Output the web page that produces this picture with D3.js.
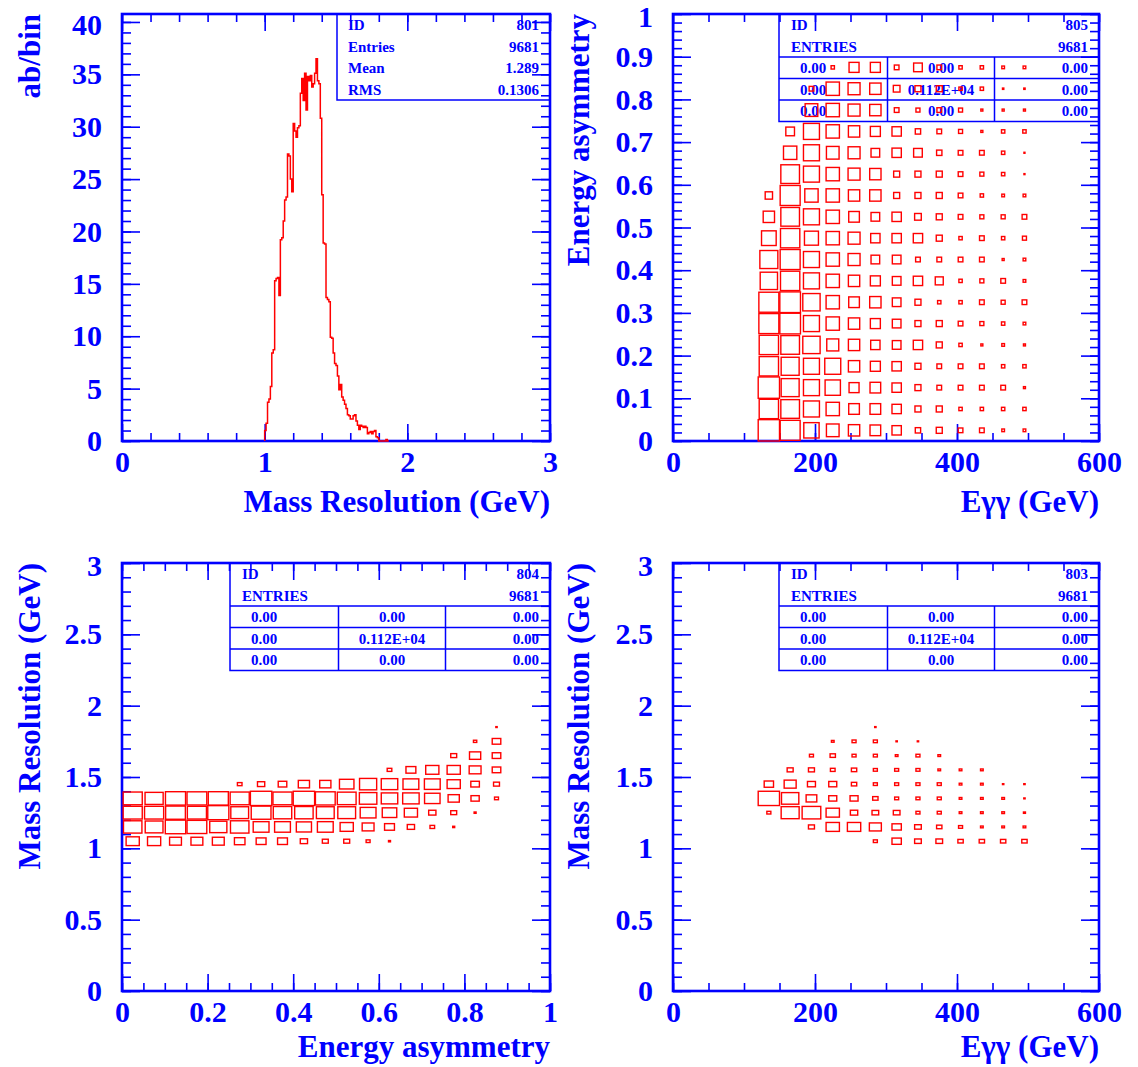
<!DOCTYPE html>
<html lang="en">
<head>
<meta charset="UTF-8" />
<title>PAW plots</title>
<style>
  body { margin: 0; background: #fff; }
  svg text { font-family: "Liberation Serif", "DejaVu Serif", serif; font-weight: bold; fill: #0000ff; }
  .ticklab text { font-size: 30px; }
  .title { font-size: 31px; }
  .stat { font-size: 15px; }
</style>
</head>
<body>
<div class="chart"></div>
<script src="https://d3js.org/d3.v7.min.js"></script>
<script>
// ---- data ------------------------------------------------------------
// 1D histogram 801 : mass resolution, bins of 0.01 GeV starting at 1.00
const massStart = 1.0
const massWidth = 0.01
const massCounts = [1.0, 1.7, 3.7, 4.0, 5.2, 8.4, 8.7, 15.3, 15.5, 15.6,
  13.9, 19.2, 19.4, 21.0, 23.0, 23.3, 27.4, 27.2, 25.0, 23.8,
  30.3, 29.6, 29.0, 29.9, 30.1, 33.2, 34.6, 32.5, 35.1, 31.6,
  34.8, 34.4, 34.9, 33.8, 34.1, 35.1, 36.5, 34.4, 34.1, 30.8,
  23.5, 18.9, 18.8, 13.7, 13.5, 13.3, 9.9, 9.8, 8.4, 7.4,
  7.2, 6.2, 4.9, 5.4, 4.2, 3.9, 3.5, 3.1, 2.5, 2.4,
  2.1, 2.1, 2.4, 2.5, 1.9, 1.5, 1.1, 1.5, 1.4, 1.3,
  1.4, 1.3, 0.7, 0.8, 0.9, 0.7, 0.9, 1.0, 0.4, 0.3,
  0, 0, 0, 0, 0, 0.15, 0]

// bin centres of the 2D histograms
const eggCenters = [135, 165, 195, 225, 255, 285, 315, 345, 375, 405, 435, 465, 495]
const asymCenters = [0.025, 0.075, 0.125, 0.175, 0.225, 0.275, 0.325, 0.375, 0.425,
  0.475, 0.525, 0.575, 0.625, 0.675, 0.725, 0.775, 0.825, 0.875]
const massCenters = [1.05, 1.15, 1.25, 1.35, 1.45, 1.55, 1.65, 1.75, 1.85]

// 805 : energy asymmetry (rows, bottom -> top) vs Egg (columns)
const asymVsEgg = [
  [64, 60, 46, 38, 34, 32, 28, 16, 18, 14, 14, 8, 8],
  [58, 56, 48, 40, 32, 32, 28, 18, 18, 10, 10, 10, 10],
  [64, 54, 48, 46, 30, 32, 28, 18, 14, 14, 14, 14, 6],
  [58, 54, 48, 48, 34, 30, 28, 18, 14, 14, 14, 10, 10],
  [58, 56, 52, 36, 34, 28, 26, 28, 18, 10, 6, 8, 6],
  [60, 62, 48, 40, 34, 30, 26, 18, 18, 14, 12, 10, 8],
  [60, 62, 52, 40, 32, 34, 26, 18, 10, 10, 14, 12, 14],
  [52, 58, 48, 40, 34, 30, 26, 28, 24, 10, 12, 14, 8],
  [54, 60, 48, 40, 36, 26, 26, 14, 14, 14, 14, 6, 8],
  [44, 58, 42, 40, 36, 28, 28, 28, 18, 10, 14, 10, 12],
  [34, 56, 48, 40, 32, 26, 28, 20, 18, 14, 12, 12, 14],
  [22, 60, 40, 40, 34, 34, 18, 18, 18, 14, 10, 8, 8],
  [0, 56, 48, 40, 36, 34, 18, 18, 18, 14, 12, 10, 3],
  [0, 40, 48, 38, 36, 26, 28, 26, 16, 14, 14, 10, 3],
  [0, 26, 48, 40, 34, 30, 28, 16, 14, 12, 6, 10, 10],
  [0, 0, 38, 40, 36, 34, 14, 12, 14, 12, 6, 6, 6],
  [0, 0, 14, 40, 36, 34, 20, 18, 18, 10, 10, 4, 4],
  [0, 0, 0, 10, 30, 30, 14, 26, 14, 10, 10, 8, 8]
]

// 804 : mass resolution (rows) vs energy asymmetry (columns)
const massVsAsym = [
  [40, 40, 36, 36, 36, 32, 30, 30, 22, 18, 18, 12, 6, 0, 0, 0, 0, 0],
  [56, 54, 62, 60, 52, 56, 48, 48, 46, 48, 40, 36, 30, 22, 14, 6, 0, 0],
  [58, 58, 60, 58, 64, 54, 60, 56, 56, 54, 54, 48, 44, 40, 22, 18, 6, 0],
  [58, 55, 61, 60, 61, 58, 65, 58, 65, 60, 57, 53, 50, 50, 47, 34, 25, 12],
  [0, 0, 0, 0, 0, 14, 22, 26, 34, 34, 44, 52, 50, 48, 48, 40, 26, 18],
  [0, 0, 0, 0, 0, 0, 0, 0, 0, 0, 0, 0, 14, 30, 40, 40, 36, 26],
  [0, 0, 0, 0, 0, 0, 0, 0, 0, 0, 0, 0, 0, 0, 0, 18, 34, 26],
  [0, 0, 0, 0, 0, 0, 0, 0, 0, 0, 0, 0, 0, 0, 0, 0, 10, 26],
  [0, 0, 0, 0, 0, 0, 0, 0, 0, 0, 0, 0, 0, 0, 0, 0, 0, 4]
]

// 803 : mass resolution (rows) vs Egg (columns)
const massVsEgg = [
  [0, 0, 0, 0, 0, 12, 28, 20, 20, 16, 16, 16, 16],
  [0, 0, 18, 40, 40, 36, 28, 20, 16, 12, 8, 8, 8],
  [12, 54, 56, 40, 22, 20, 20, 12, 12, 8, 8, 8, 6],
  [64, 52, 32, 24, 24, 16, 12, 12, 12, 8, 8, 8, 4],
  [28, 36, 24, 24, 16, 12, 12, 12, 12, 8, 8, 4, 4],
  [0, 18, 18, 14, 16, 12, 12, 12, 8, 8, 8, 0, 0],
  [0, 0, 12, 16, 12, 12, 8, 12, 8, 0, 0, 0, 0],
  [0, 0, 0, 8, 12, 12, 4, 4, 0, 0, 0, 0, 0],
  [0, 0, 0, 0, 0, 4, 0, 0, 0, 0, 0, 0, 0]
]

// tick labels
const massTicks = [0, 1, 2, 3]
const countTicks = [0, 5, 10, 15, 20, 25, 30, 35, 40]
const eggTicks = [0, 200, 400, 600]
const asymTicksY = [0, 0.1, 0.2, 0.3, 0.4, 0.5, 0.6, 0.7, 0.8, 0.9, 1]
const asymTicksX = [0, 0.2, 0.4, 0.6, 0.8, 1]
const massTicksY = [0, 0.5, 1, 1.5, 2, 2.5, 3]

// statistics boxes
const stats1D = [['ID', '801'], ['Entries', '9681'], ['Mean', '1.289'], ['RMS', '0.1306']]
const statsGrid = [['0.00', '0.00', '0.00'], ['0.00', '0.112E+04', '0.00'], ['0.00', '0.00', '0.00']]

// ---- drawing ---------------------------------------------------------
const blue = '#0000ff'
const red = '#ff0000'

const svg = d3.select('.chart').append('svg')
  .attr('width', 1138)
  .attr('height', 1067)

const steps = (a, b, s) => d3.range(Math.round((b - a) / s) + 1).map(i => +(a + i * s).toFixed(6))

function frame(p) {
  const g = svg.append('g').attr('transform', `translate(${p.left},${p.top})`)
  const x = d3.scaleLinear().domain(p.xDomain).range([0, p.w])
  const y = d3.scaleLinear().domain(p.yDomain).range([p.h, 0])
  const xMinor = steps(p.xDomain[0], p.xDomain[1], p.xMinor)
  const yMinor = steps(p.yDomain[0], Math.floor(p.yDomain[1] / p.yMinor) * p.yMinor, p.yMinor)
  const fmt = d => String(d)

  const add = (axis, tx, ty, labels) => {
    const a = g.append('g')
      .attr('transform', `translate(${tx},${ty})`)
      .attr('color', blue)
      .call(axis)
    a.select('.domain').remove()
    a.selectAll('line').attr('stroke-width', 1.6)
    if (labels) a.attr('class', 'ticklab')
    return a
  }
  // minor ticks all four sides
  add(d3.axisBottom(x).tickValues(xMinor).tickSize(-8).tickFormat(''), 0, p.h)
  add(d3.axisTop(x).tickValues(xMinor).tickSize(-8).tickFormat(''), 0, 0)
  add(d3.axisLeft(y).tickValues(yMinor).tickSize(-9).tickFormat(''), 0, 0)
  add(d3.axisRight(y).tickValues(yMinor).tickSize(-9).tickFormat(''), p.w, 0)
  // major ticks + labels
  add(d3.axisBottom(x).tickValues(p.xTicks).tickSize(-17).tickPadding(10).tickFormat(fmt), 0, p.h, true)
  add(d3.axisTop(x).tickValues(p.xTicks).tickSize(-17).tickFormat(''), 0, 0)
  const ya = add(d3.axisLeft(y).tickValues(p.yTicks).tickSize(-18).tickPadding(20).tickFormat(fmt), 0, 0, true)
  // top label sits just inside the window
  ya.selectAll('text').filter(d => d === p.yTicks[p.yTicks.length - 1] && y(d) < 10).attr('dy', '0.42em')
  add(d3.axisRight(y).tickValues(p.yTicks).tickSize(-18).tickFormat(''), p.w, 0)

  g.append('rect')
    .attr('width', p.w).attr('height', p.h)
    .attr('fill', 'none').attr('stroke', blue).attr('stroke-width', 2.6)

  // axis titles
  g.append('text').attr('class', 'title')
    .attr('x', p.w).attr('y', p.h + p.xTitleDy)
    .attr('text-anchor', 'end')
    .text(p.xTitle)
  g.append('text').attr('class', 'title')
    .attr('transform', `translate(${p.yTitleX - p.left},0) rotate(-90)`)
    .attr('text-anchor', 'end')
    .text(p.yTitle)

  return { g, x, y }
}

function statBox1D(g, w) {
  const left = w - 213, rowH = 21.5
  g.append('path')
    .attr('d', `M${left},0V${rowH * 4}H${w}`)
    .attr('fill', 'none').attr('stroke', blue).attr('stroke-width', 1.5)
  stats1D.forEach((r, i) => {
    g.append('text').attr('class', 'stat').attr('x', left + 11).attr('y', rowH * (i + 0.5)).attr('dy', '0.35em').text(r[0])
    g.append('text').attr('class', 'stat').attr('x', w - 11).attr('y', rowH * (i + 0.5)).attr('dy', '0.35em')
      .attr('text-anchor', 'end').text(r[1])
  })
}

function statBox2D(g, w, id, grid) {
  const left = w - 320, rowH = 21.5
  const c1 = left + 108.5, c2 = left + 215.5
  const line = d => g.append('path').attr('d', d).attr('fill', 'none').attr('stroke', blue).attr('stroke-width', 1.5)
  line(`M${left},0V${rowH * 5}H${w}`)
  line(`M${left},${rowH * 2}H${w}M${left},${rowH * 3}H${w}M${left},${rowH * 4}H${w}`)
  line(`M${c1},${rowH * 2}V${rowH * 5}M${c2},${rowH * 2}V${rowH * 5}`)
  const txt = (x, i, s, anchor) => g.append('text').attr('class', 'stat')
    .attr('x', x).attr('y', rowH * (i + 0.5)).attr('dy', '0.35em')
    .attr('text-anchor', anchor).text(s)
  txt(left + 12, 0, 'ID', 'start')
  txt(w - 11, 0, id, 'end')
  txt(left + 12, 1, 'ENTRIES', 'start')
  txt(w - 11, 1, '9681', 'end')
  grid.forEach((r, i) => {
    txt(left + 21, i + 2, r[0], 'start')
    txt((c1 + c2) / 2, i + 2, r[1], 'middle')
    txt(w - 11, i + 2, r[2], 'end')
  })
}

function boxes(f, xc, yc, contents, dx, dy) {
  const s = d3.scaleLinear().domain([0, d3.max(contents.flat())]).range([0, 1])
  const cells = []
  contents.forEach((row, j) => row.forEach((v, i) => { if (v > 0) cells.push({ xv: xc[i], yv: yc[j], v }) }))
  const cw = d => (f.x(d.xv + dx / 2) - f.x(d.xv - dx / 2)) * s(d.v)
  const ch = d => (f.y(d.yv - dy / 2) - f.y(d.yv + dy / 2)) * s(d.v)
  f.g.append('g').selectAll('rect').data(cells).join('rect')
    .attr('width', cw)
    .attr('height', ch)
    .attr('x', d => f.x(d.xv) - cw(d) / 2)
    .attr('y', d => f.y(d.yv) - ch(d) / 2)
    .attr('fill', 'none')
    .attr('stroke', red)
    .attr('stroke-width', 1.4)
}

// --- panel 1: histogram
const p1 = frame({ left: 122, top: 14, w: 428, h: 427, xDomain: [0, 3], yDomain: [0, 40.76],
  xMinor: 0.2, yMinor: 1, xTicks: massTicks, yTicks: countTicks,
  xTitle: 'Mass Resolution (GeV)', xTitleDy: 71, yTitle: 'ab/bin', yTitleX: 40 })
statBox1D(p1.g, 428)
const histPts = [{ x: massStart, v: 0 }]
  .concat(massCounts.map((v, i) => ({ x: massStart + i * massWidth, v })))
  .concat([{ x: massStart + massCounts.length * massWidth, v: 0 }])
p1.g.append('path')
  .attr('d', d3.line().x(d => p1.x(d.x)).y(d => p1.y(d.v)).curve(d3.curveStepAfter)(histPts))
  .attr('fill', 'none').attr('stroke', red).attr('stroke-width', 1.5)

// --- panel 2: asymmetry vs Egg
const p2 = frame({ left: 673, top: 14, w: 426, h: 427, xDomain: [0, 600], yDomain: [0, 1],
  xMinor: 50, yMinor: 0.02, xTicks: eggTicks, yTicks: asymTicksY,
  xTitle: 'Eγγ (GeV)', xTitleDy: 71, yTitle: 'Energy asymmetry', yTitleX: 589 })
statBox2D(p2.g, 426, '805', statsGrid)
boxes(p2, eggCenters, asymCenters, asymVsEgg, 30, 0.05)

// --- panel 3: mass vs asymmetry
const p3 = frame({ left: 122, top: 563, w: 428, h: 428, xDomain: [0, 1], yDomain: [0, 3],
  xMinor: 0.05, yMinor: 0.1, xTicks: asymTicksX, yTicks: massTicksY,
  xTitle: 'Energy asymmetry', xTitleDy: 66, yTitle: 'Mass Resolution (GeV)', yTitleX: 40 })
statBox2D(p3.g, 428, '804', statsGrid)
boxes(p3, asymCenters, massCenters, massVsAsym, 0.05, 0.1)

// --- panel 4: mass vs Egg
const p4 = frame({ left: 673, top: 563, w: 426, h: 428, xDomain: [0, 600], yDomain: [0, 3],
  xMinor: 50, yMinor: 0.1, xTicks: eggTicks, yTicks: massTicksY,
  xTitle: 'Eγγ (GeV)', xTitleDy: 66, yTitle: 'Mass Resolution (GeV)', yTitleX: 589 })
statBox2D(p4.g, 426, '803', statsGrid)
boxes(p4, eggCenters, massCenters, massVsEgg, 30, 0.1)
</script>
</body>
</html>
